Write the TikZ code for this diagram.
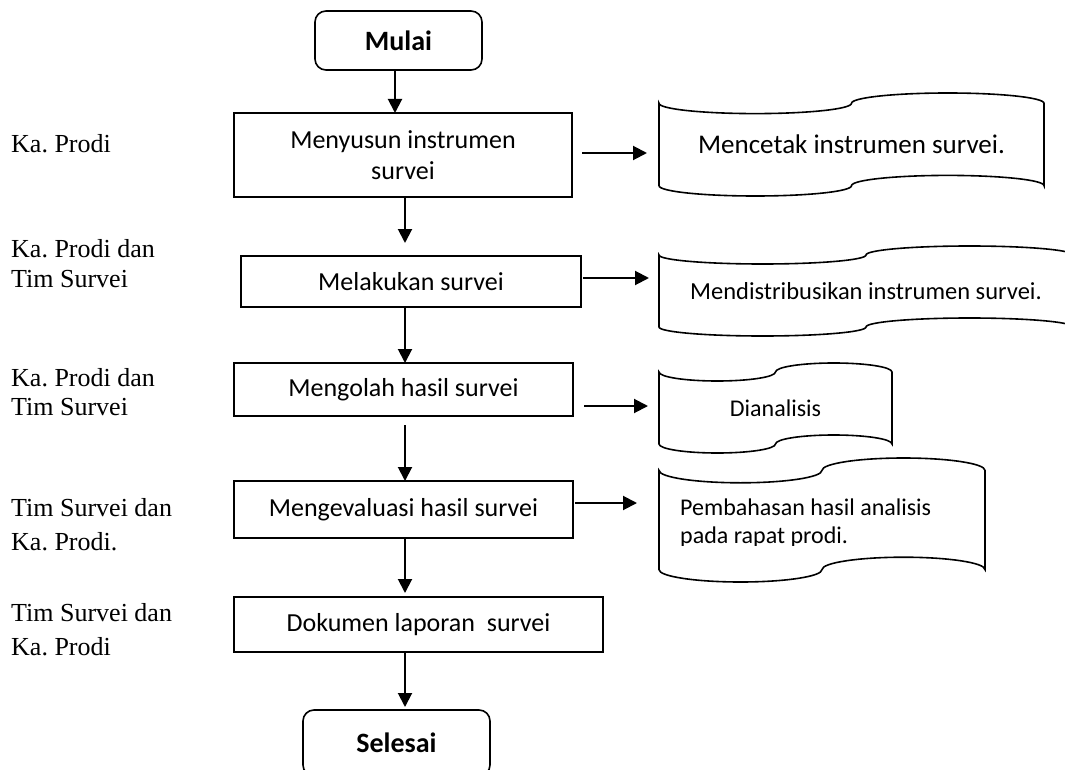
\documentclass[tikz,border=0pt]{standalone}
\usepackage{fontspec}
\setmainfont{Carlito}
\newfontfamily\tnr{Liberation Serif}
\usetikzlibrary{arrows.meta,calc}
\frenchspacing
\tikzset{
 proc/.style={draw, line width=1.6pt, inner sep=0pt, outer sep=0pt, font=\fontsize{26}{31}\selectfont, align=center},
 term/.style={draw, line width=1.6pt, rounded corners=11pt, inner sep=0pt, outer sep=0pt, font=\bfseries\fontsize{28}{32}\selectfont},
 tape/.style={inner sep=0pt, outer sep=0pt},
 shp/.style={draw, line width=1.6pt},
 arr/.style={line width=2pt, -{Triangle[length=14pt,width=14pt]}},
 role/.style={anchor=base west, inner sep=0pt, font=\tnr\fontsize{26}{30}\selectfont},
 tline/.style={anchor=base west, inner sep=0pt, font=\fontsize{24}{28}\selectfont},
}
\newcommand\punchtape[1]{%
 \draw[shp] let \p1=(#1.north west), \p2=(#1.south east), \n1={(\x2-\x1)/4}, \n2={(\y1-\y2)/10} in
 (\x1,\y1-\n2) arc[start angle=180, end angle=360, x radius=\n1, y radius=\n2]
 arc[start angle=180, end angle=0, x radius=\n1, y radius=\n2]
 -- (\x2,\y2+\n2)
 arc[start angle=0, end angle=180, x radius=\n1, y radius=\n2]
 arc[start angle=0, end angle=-180, x radius=\n1, y radius=\n2]
 -- cycle;}
\begin{document}
\begin{tikzpicture}
\clip (0,0) rectangle (1065pt,-770pt);
\fill[white] (0,0) rectangle (1065pt,-770pt);

% main column
\node[term, minimum width=167pt, minimum height=59pt] (m) at (398.5pt,-40.5pt) {Mulai};
\node[proc, minimum width=338pt, minimum height=84pt] (b1) at (403pt,-155pt) {Menyusun instrumen\\survei};
\node[proc, minimum width=340pt, minimum height=51pt] (b2) at (411pt,-281.5pt) {Melakukan survei};
\node[proc, minimum width=339pt, minimum height=53pt] (b3) at (403.5pt,-389.5pt) {Mengolah hasil survei};
\node[proc, minimum width=339pt, minimum height=57pt] (b4) at (403.5pt,-509.5pt) {Mengevaluasi hasil survei};
\node[proc, minimum width=369pt, minimum height=55pt] (b5) at (418.5pt,-624.5pt) {Dokumen laporan\ \ survei};
\node[term, minimum width=187pt, minimum height=66pt] (s) at (396.5pt,-743pt) {Selesai};

% punched tape documents
\node[tape, minimum width=385pt, minimum height=103pt, font=\fontsize{27}{32}\selectfont] (d1) at (851.5pt,-144.5pt) {Mencetak instrumen survei.};
\punchtape{d1}
\node[tape, minimum width=414pt, minimum height=90pt, font=\fontsize{24.5}{29}\selectfont] (d2) at (866pt,-291pt) {Mendistribusikan instrumen survei.};
\punchtape{d2}
\node[tape, minimum width=233pt, minimum height=90pt, font=\fontsize{24}{28}\selectfont] (d3) at (775.5pt,-408pt) {Dianalisis};
\punchtape{d3}
\node[tape, minimum width=326pt, minimum height=124pt] (d4) at (822pt,-520pt) {};
\punchtape{d4}
\node[tline] (d4a) at (680pt,-515pt) {Pembahasan hasil analisis};
\begin{scope}
 \clip (650pt,-495pt) rectangle (1000pt,-545.5pt);
 \node[tline] (d4b) at (680pt,-543pt) {pada rapat prodi.};
\end{scope}

% role labels
\node[role] (l1) at (11pt,-153pt) {Ka. Prodi};
\node[role] (l2a) at (11pt,-257pt) {Ka. Prodi dan};
\node[role] (l2b) at (11pt,-287pt) {Tim Survei};
\node[role] (l3a) at (11pt,-386pt) {Ka. Prodi dan};
\node[role] (l3b) at (11pt,-415pt) {Tim Survei};
\node[role] (l4a) at (11pt,-516pt) {Tim Survei dan};
\node[role] (l4b) at (11pt,-550pt) {Ka. Prodi.};
\node[role] (l5a) at (11pt,-621pt) {Tim Survei dan};
\node[role] (l5b) at (11pt,-655pt) {Ka. Prodi};

% vertical flow
\coordinate (cx) at (405pt,0);
\draw[arr] ($(m.south)+(-3.5pt,0)$) -- ($(m.south |- b1.north)+(-3.5pt,0)$);
\draw[arr] (b1.south -| cx) -- ($(b2.north -| cx)+(0,13pt)$);
\draw[arr] (b2.south -| cx) -- (b3.north -| cx);
\draw[arr] ($(b3.south -| cx)+(0,-9pt)$) -- (b4.north -| cx);
\draw[arr] (b4.south -| cx) -- ($(b5.north -| cx)+(0,4pt)$);
\draw[arr] (b5.south -| cx) -- ($(s.north -| cx)+(0,3pt)$);

% side arrows
\draw[arr] ($(b1.east)+(10pt,2pt)$) -- ($(b1.east -| d1.west)+(-12pt,2pt)$);
\draw[arr] ($(b2.east)+(2pt,3.5pt)$) -- ($(b2.east -| d2.west)+(-10pt,3.5pt)$);
\draw[arr] ($(b3.east)+(11pt,-16.5pt)$) -- ($(b3.east -| d3.west)+(-11pt,-16.5pt)$);
\draw[arr] ($(b4.east)+(2pt,6.5pt)$) -- ($(b4.east -| d4.west)+(-22pt,6.5pt)$);
\end{tikzpicture}
\end{document}
